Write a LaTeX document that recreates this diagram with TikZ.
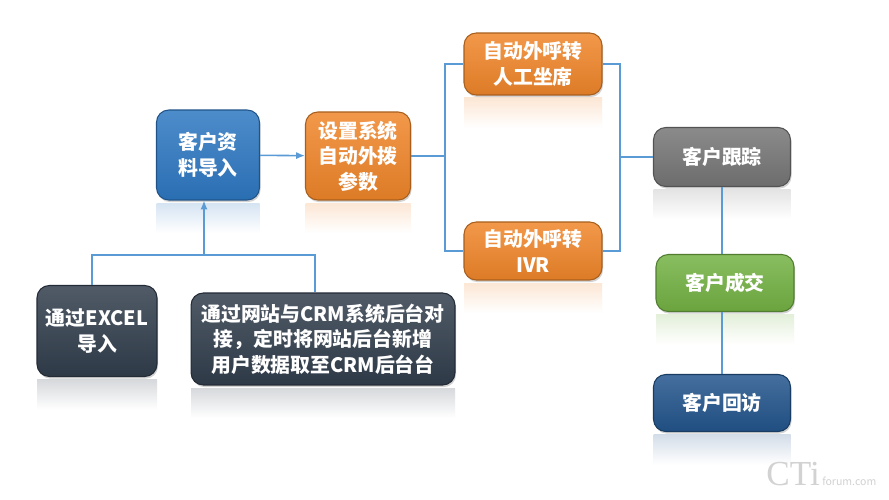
\documentclass[tikz,border=0pt]{standalone}
\usepackage{fontspec}
\setmainfont{Noto Sans CJK SC}
\newfontfamily\wmfont{Liberation Serif}
\usetikzlibrary{arrows.meta,shadows}

\definecolor{lineblue}{HTML}{5B9BD5}
\definecolor{boxblue}{HTML}{2E78C2}
\definecolor{boxorange}{HTML}{F0862A}
\definecolor{boxgray}{HTML}{767676}
\definecolor{boxgreen}{HTML}{74B244}
\definecolor{boxnavy}{HTML}{23558C}
\definecolor{boxslate}{HTML}{323E4D}

\tikzset{
  card/.style={rounded corners=7pt, draw=#1!70!black, line width=0.6pt,
    top color=#1!85!white, bottom color=#1!92!black,
    drop shadow={opacity=0.35, shadow xshift=0.6pt, shadow yshift=-1.2pt},
    text=white, font=\bfseries\fontsize{11.3}{14.5}\selectfont, align=center,
    inner sep=2pt},
  mirror/.style={top color=#1!20!white, bottom color=white, draw=none},
  link/.style={draw=lineblue, line width=0.9pt},
}

\begin{document}
\begin{tikzpicture}[x=0.02cm, y=-0.02cm]
    \useasboundingbox[fill=white] (0,0) rectangle (889,500);

    % faint reflections under the boxes
    \foreach \cx/\cy/\w/\h/\c in {208/155/103/90/boxblue, 358/156/105/88/boxorange,
        533/64/138/62/boxorange, 533/251/138/58/boxorange, 722/157/137/59/boxgray,
        725/283/138/57/boxgreen, 722/403/137/57/boxnavy, 97/331/120/91/boxslate,
        323/339/264/92/boxslate}
      \shade[mirror=\c] (\cx-\w/2,\cy+\h/2+3) rectangle (\cx+\w/2,\cy+\h/2+33);

    \node[card=boxblue, minimum width=2.06cm, minimum height=1.8cm] (imp) at (208,155) {客户资\\料导入};
    \node[card=boxorange, minimum width=2.1cm, minimum height=1.76cm] (param) at (358,156) {设置系统\\自动外拨\\参数};
    \node[card=boxorange, minimum width=2.76cm, minimum height=1.24cm] (agent) at (533,64) {自动外呼转\\人工坐席};
    \node[card=boxorange, minimum width=2.76cm, minimum height=1.16cm] (ivr) at (533,251) {自动外呼转\\IVR};
    \node[card=boxgray, minimum width=2.74cm, minimum height=1.18cm] (track) at (722,157) {客户跟踪};
    \node[card=boxgreen, minimum width=2.76cm, minimum height=1.14cm] (deal) at (725,283) {客户成交};
    \node[card=boxnavy, minimum width=2.74cm, minimum height=1.14cm] (visit) at (722,403) {客户回访};
    \node[card=boxslate, minimum width=2.4cm, minimum height=1.82cm] (excel) at (97,331) {通过EXCEL\\导入};
    \node[card=boxslate, minimum width=5.28cm, minimum height=1.84cm] (web) at (323,339)
      {通过网站与CRM系统后台对\\接，定时将网站后台新增\\用户数据取至CRM后台台};

    \coordinate (merge) at (204,255);
    \coordinate (split) at (445,156);
    \coordinate (join) at (620,157);

    \draw[link] ([xshift=-0.1cm]excel.north) |- (merge) -| ([xshift=-0.16cm]web.north);
    \draw[link, -{Latex[length=5pt,width=4pt]}] (merge) -- (imp.south -| merge);
    \draw[link, -{Latex[length=5pt,width=4pt]}] (imp) -- (param);
    \draw[link] (param.east) -- (split);
    \draw[link] (agent.west) -| (split) |- (ivr.west);
    \draw[link] (agent.east) -| (join) |- (ivr.east);
    \draw[link] (join) -- (track.west);
    \draw[link] (track.south) -- (track.south |- deal.north);
    \draw[link] (deal.south -| track.south) -- (visit.north);

    % watermark
    \node[text=gray!35, font=\fontsize{20}{20}\selectfont\wmfont, anchor=base west, inner sep=0pt] (wm) at (766,485) {CTi};
    \node[text=gray!35, font=\fontsize{6}{6}\selectfont, anchor=base west, inner sep=1pt] (wmsub) at (wm.base east) {forum.com};
\end{tikzpicture}
\end{document}
